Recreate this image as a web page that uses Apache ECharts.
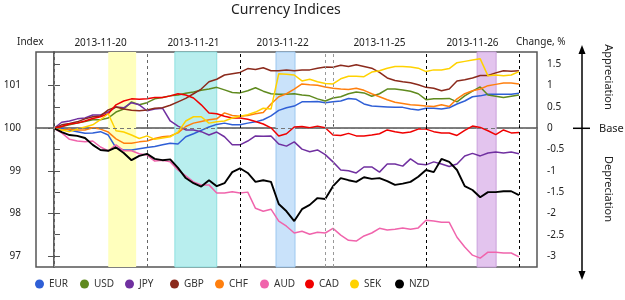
<!DOCTYPE html>
<html>
<head>
<meta charset="utf-8">
<title>Currency Indices</title>
<script src="https://cdn.jsdelivr.net/npm/echarts@6/dist/echarts.min.js"></script>
<style>
  html, body { margin: 0; padding: 0; background: #fff; }
  #chart { width: 625px; height: 300px; }
</style>
</head>
<body>
<div id="chart"></div>
<script>
// hours from the 2013-11-20 open; Friday closes 2h early, the weekend is squeezed into 2h
const hours = [0, 2, 4, 6, 8, 10, 12, 14, 16, 18, 20, 22, 24, 26, 28, 30, 32, 34, 36, 38, 40,
  42, 44, 46, 48, 50, 52, 54, 56, 58, 60, 62, 64, 66, 68, 70, 72, 74, 76, 78, 80,
  82, 84, 86, 88, 90, 92, 94, 96, 98, 100, 102, 104, 106, 108, 110, 112, 114, 116, 118, 120];

const dayLabels = ['2013-11-20', '2013-11-21', '2013-11-22', '2013-11-25', '2013-11-26'];
const dayCentres = [12, 36, 59, 84, 108];
const dayBreaks = [0, 24, 48, 70, 72, 96, 120];
const indexTicks = [97, 98, 99, 100, 101];
const changeTicks = [1.5, 1, 0.5, 0, -0.5, -1, -1.5, -2, -2.5, -3];

// highlighted sessions [from, to] in hours
const bandYellow = [14, 21.2];
const bandCyan = [31.2, 42];
const bandBlue = [57.3, 62.2];
const bandPurple = [109.2, 114.1];

const eur = [100, 100.00, 99.96, 99.92, 99.88, 99.89, 99.92, 99.84, 99.54, 99.49, 99.49, 99.52, 99.55, 99.57, 99.61, 99.65, 99.63, 99.80, 99.87, 99.95, 100.03,
  100.09, 100.12, 100.08, 100.08, 100.12, 100.15, 100.20, 100.29, 100.42, 100.48, 100.52, 100.62, 100.62, 100.63, 100.60, 100.62, 100.64, 100.70, 100.68, 100.57,
  100.52, 100.51, 100.50, 100.49, 100.49, 100.45, 100.43, 100.47, 100.47, 100.45, 100.48, 100.57, 100.64, 100.74, 100.76, 100.80, 100.80, 100.80, 100.80, 100.82];
const usd = [100, 100.04, 100.08, 100.12, 100.16, 100.20, 100.20, 100.24, 100.38, 100.45, 100.62, 100.55, 100.60, 100.69, 100.72, 100.76, 100.78, 100.82, 100.85, 100.89, 100.92,
  100.96, 100.90, 100.84, 100.83, 100.88, 100.95, 100.87, 100.81, 100.80, 100.80, 100.81, 100.78, 100.76, 100.69, 100.64, 100.71, 100.74, 100.81, 100.85, 100.83,
  100.75, 100.81, 100.92, 100.92, 100.90, 100.87, 100.81, 100.67, 100.69, 100.69, 100.70, 100.62, 100.76, 100.87, 100.97, 100.78, 100.75, 100.72, 100.75, 100.78];
const jpy = [100, 100.14, 100.17, 100.22, 100.24, 100.31, 100.31, 100.38, 100.50, 100.48, 100.60, 100.55, 100.41, 100.45, 100.47, 100.17, 100.05, 99.96, 99.96, 99.92, 99.84,
  99.91, 99.80, 99.61, 99.61, 99.70, 99.82, 99.81, 99.82, 99.63, 99.58, 99.68, 99.51, 99.45, 99.49, 99.38, 99.21, 99.02, 99.00, 98.95, 99.09,
  99.09, 98.97, 99.16, 99.16, 99.11, 99.28, 99.16, 99.14, 99.21, 99.16, 99.10, 99.16, 99.35, 99.41, 99.35, 99.42, 99.44, 99.42, 99.44, 99.40];
const gbp = [100, 100.08, 100.11, 100.15, 100.22, 100.27, 100.29, 100.43, 100.50, 100.45, 100.42, 100.41, 100.43, 100.47, 100.48, 100.54, 100.62, 100.70, 100.81, 100.92, 101.09,
  101.15, 101.25, 101.28, 101.31, 101.40, 101.38, 101.42, 101.35, 101.35, 101.37, 101.35, 101.37, 101.37, 101.41, 101.44, 101.43, 101.48, 101.45, 101.49, 101.45,
  101.41, 101.31, 101.18, 101.12, 101.09, 101.07, 101.02, 100.96, 100.94, 100.88, 100.92, 101.11, 101.14, 101.18, 101.24, 101.24, 101.30, 101.35, 101.34, 101.35];
const chf = [100, 99.96, 99.98, 99.96, 99.96, 100.01, 99.98, 99.91, 99.75, 99.65, 99.65, 99.68, 99.70, 99.76, 99.80, 99.82, 99.89, 100.04, 100.12, 100.16, 100.20,
  100.22, 100.36, 100.30, 100.28, 100.30, 100.34, 100.37, 100.57, 100.74, 100.81, 100.92, 101.04, 101.02, 101.01, 100.97, 100.94, 100.92, 100.91, 100.94, 100.89,
  100.81, 100.74, 100.67, 100.61, 100.58, 100.55, 100.54, 100.52, 100.51, 100.55, 100.51, 100.69, 100.81, 100.88, 100.92, 101.00, 101.03, 101.06, 101.06, 101.04];
const aud = [100, 99.89, 99.74, 99.70, 99.68, 99.70, 99.56, 99.47, 99.61, 99.47, 99.47, 99.40, 99.37, 99.23, 99.25, 99.21, 99.02, 98.88, 98.74, 98.67, 98.67,
  98.48, 98.48, 98.51, 98.48, 98.50, 98.12, 98.05, 98.10, 97.82, 97.70, 97.54, 97.58, 97.51, 97.56, 97.54, 97.65, 97.49, 97.37, 97.35, 97.47,
  97.54, 97.65, 97.61, 97.63, 97.66, 97.63, 97.66, 97.84, 97.82, 97.79, 97.79, 97.44, 97.21, 97.02, 96.95, 97.09, 97.09, 97.07, 97.07, 96.98];
const cad = [100, 100.04, 100.10, 100.12, 100.17, 100.23, 100.27, 100.34, 100.55, 100.64, 100.69, 100.68, 100.69, 100.72, 100.72, 100.76, 100.81, 100.78, 100.71, 100.55, 100.36,
  100.34, 100.28, 100.24, 100.24, 100.21, 100.16, 100.10, 100.01, 99.82, 99.87, 100.03, 100.04, 100.01, 100.05, 100.01, 99.84, 99.83, 99.88, 99.82, 99.82,
  99.84, 99.87, 99.96, 99.92, 99.89, 99.91, 99.98, 99.98, 99.92, 99.89, 99.89, 99.83, 99.95, 100.05, 100.02, 99.94, 99.85, 99.96, 99.89, 99.90];
const sek = [100, 99.96, 99.92, 99.98, 100.03, 100.08, 100.20, 100.34, 99.94, 99.91, 99.84, 99.76, 99.82, 99.74, 99.77, 99.80, 99.91, 100.17, 100.27, 100.27, 100.12,
  100.15, 100.17, 100.24, 100.28, 100.32, 100.38, 100.47, 100.45, 101.28, 101.27, 101.25, 101.11, 101.15, 101.09, 101.05, 101.04, 101.16, 101.22, 101.22, 101.21,
  101.32, 101.35, 101.41, 101.45, 101.45, 101.44, 101.41, 101.33, 101.37, 101.37, 101.40, 101.54, 101.57, 101.60, 101.63, 101.23, 101.25, 101.23, 101.25, 101.33];
const nzd = [100, 99.91, 99.84, 99.82, 99.77, 99.61, 99.49, 99.47, 99.55, 99.42, 99.25, 99.35, 99.40, 99.28, 99.25, 99.27, 99.07, 98.83, 98.71, 98.63, 98.78,
  98.64, 98.71, 98.97, 99.06, 98.95, 98.74, 98.78, 98.74, 98.22, 98.05, 97.82, 98.10, 98.20, 98.36, 98.34, 98.64, 98.83, 98.78, 98.74, 98.85,
  98.81, 98.83, 98.76, 98.67, 98.70, 98.74, 98.86, 99.02, 98.97, 99.28, 99.21, 99.02, 98.64, 98.55, 98.38, 98.50, 98.50, 98.52, 98.52, 98.43];

const currencies = ['EUR', 'USD', 'JPY', 'GBP', 'CHF', 'AUD', 'CAD', 'SEK', 'NZD'];
const values = [eur, usd, jpy, gbp, chf, aud, cad, sek, nzd];
const colors = ['#2f5fd6', '#5f8a1e', '#7030a0', '#8b2a1c', '#ff7f0e', '#f064ac', '#f00000', '#ffd200', '#000000'];

const font = 'Noto Sans';
const xMin = -4.645, xMax = 124.65;
const yMin = 96.742, yMax = 101.79;

const chart = echarts.init(document.getElementById('chart'), null, { renderer: 'canvas' });

const lineSeries = currencies.map((name, i) => ({
  name: name,
  type: 'line',
  data: hours.map((h, j) => [h, values[i][j]]),
  symbol: 'none',
  z: 3,
  lineStyle: { color: colors[i], width: name === 'NZD' ? 1.9 : 1.5 },
  itemStyle: { color: colors[i] },
}));

const dash = [3, 3];
const breakColors = ['#999', '#666', '#000', '#999', '#999', '#000', '#000'];

const markerSeries = {
  name: 'markers',
  type: 'line',
  data: [],
  z: 1,
  silent: true,
  markArea: {
    silent: true,
    data: [
      [{ xAxis: bandYellow[0], itemStyle: { color: '#ffffbd' } }, { xAxis: bandYellow[1] }],
      [{ xAxis: bandCyan[0], itemStyle: { color: '#b8eeee', borderColor: '#8fe0e0', borderWidth: 1 } }, { xAxis: bandCyan[1] }],
      [{ xAxis: bandBlue[0], itemStyle: { color: '#c9e2fa', borderColor: '#9cc8f0', borderWidth: 1 } }, { xAxis: bandBlue[1] }],
      [{ xAxis: bandPurple[0], itemStyle: { color: '#e3c4ee', borderColor: '#c9a0dc', borderWidth: 1 } }, { xAxis: bandPurple[1] }],
    ],
  },
  markLine: {
    silent: true,
    symbol: ['none', 'none'],
    label: { show: false },
    data: dayBreaks.map((h, i) => ({ xAxis: h, lineStyle: { color: breakColors[i], type: dash, width: 1 } }))
      .concat([{ yAxis: 100, lineStyle: { color: '#777', type: [4, 3], width: 1 } }]),
  },
};

// one legend per currency so the items sit on an even 45px pitch
const legends = currencies.map((name, i) => ({
  data: [name],
  left: 35 + 45 * i,
  top: 279,
  padding: 0,
  icon: 'circle',
  itemWidth: 9,
  itemHeight: 9,
  textStyle: { fontFamily: font, fontSize: 10, color: '#333' },
}));

chart.setOption({
  animation: false,
  textStyle: { fontFamily: font },
  title: {
    text: 'Currency Indices',
    left: 231,
    top: 3,
    padding: 0,
    textStyle: { fontFamily: font, fontSize: 14, fontWeight: 'normal', color: '#222' },
  },
  legend: legends,
  grid: {
    left: 36, right: 88, top: 52, bottom: 33,
    show: true, borderColor: '#555', borderWidth: 1.5, backgroundColor: 'transparent',
  },
  xAxis: [
    {
      type: 'value', position: 'bottom', min: xMin, max: xMax,
      axisLine: { show: true, lineStyle: { color: '#555', width: 1.5 } },
      axisTick: { show: true, inside: true, length: 4, customValues: dayBreaks, lineStyle: { color: '#444' } },
      axisLabel: { show: false },
      splitLine: { show: false },
    },
    {
      type: 'value', position: 'top', min: xMin, max: xMax,
      axisLine: { show: false },
      axisTick: { show: false },
      axisLabel: {
        customValues: dayCentres, margin: 4, fontSize: 10, color: '#222',
        formatter: v => dayLabels[dayCentres.indexOf(v)] || '',
      },
      splitLine: { show: false },
    },
  ],
  yAxis: [
    {
      type: 'value', position: 'left', min: yMin, max: yMax,
      axisLine: { show: true, lineStyle: { color: '#555', width: 1.5 } },
      axisTick: { show: true, length: 6, customValues: indexTicks, lineStyle: { color: '#555' } },
      axisLabel: { customValues: indexTicks, margin: 15, fontSize: 10, color: '#222' },
      splitLine: { show: false },
    },
    {
      type: 'value', position: 'right', min: yMin - 100, max: yMax - 100,
      axisLine: { show: true, lineStyle: { color: '#555', width: 1.5 } },
      axisTick: { show: true, length: 6, customValues: changeTicks, lineStyle: { color: '#555' } },
      axisLabel: { customValues: changeTicks, margin: 10, fontSize: 10, color: '#222' },
      splitLine: { show: false },
    },
  ],
  graphic: [
    { type: 'text', left: 17, top: 37, style: { text: 'Index', fontFamily: font, fontSize: 10, fill: '#222' } },
    { type: 'text', left: 516, top: 37, style: { text: 'Change, %', fontFamily: font, fontSize: 10, fill: '#222' } },
    { type: 'line', shape: { x1: 582, y1: 52, x2: 582, y2: 274 }, style: { stroke: '#000', lineWidth: 1.5 } },
    { type: 'polygon', shape: { points: [[582, 45], [578.5, 54], [585.5, 54]] }, style: { fill: '#000' } },
    { type: 'polygon', shape: { points: [[582, 280], [578.5, 271], [585.5, 271]] }, style: { fill: '#000' } },
    { type: 'line', shape: { x1: 573, y1: 128.3, x2: 590, y2: 128.3 }, style: { stroke: '#000', lineWidth: 1.5 } },
    { type: 'text', x: 599, y: 129, style: { text: 'Base', fontFamily: font, fontSize: 11, fill: '#222', verticalAlign: 'middle' } },
    { type: 'text', x: 608, y: 77, rotation: -Math.PI / 2,
      style: { text: 'Appreciation', fontFamily: font, fontSize: 11, fill: '#222', align: 'center', verticalAlign: 'middle' } },
    { type: 'text', x: 608, y: 189, rotation: -Math.PI / 2,
      style: { text: 'Depreciation', fontFamily: font, fontSize: 11, fill: '#222', align: 'center', verticalAlign: 'middle' } },
  ],
  series: [markerSeries].concat(lineSeries),
});
</script>
</body>
</html>
